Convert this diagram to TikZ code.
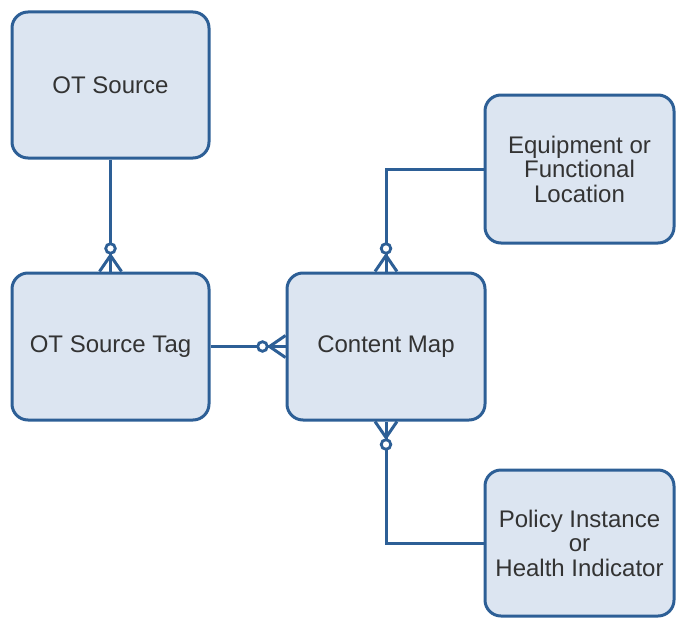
\documentclass[tikz,border=0pt]{standalone}
\usepackage{fontspec}
\setmainfont{Liberation Sans}
\usepackage{xcolor}
\usetikzlibrary{calc}
\definecolor{entityline}{HTML}{2D5F96}
\definecolor{entityfill}{HTML}{DCE5F1}
\definecolor{entitytext}{HTML}{333333}
% zero-or-many end: #1 = anchor on the box, #2 = angle pointing into the box
\newcommand{\zeromany}[2]{%
  \begin{scope}[shift={(#1)}, rotate=#2]
    \draw[line width=3pt, entityline] (-16,0) -- (0,11) (-16,0) -- (0,-11);
    \draw[line width=2.8pt, entityline, fill=white] (-23,0) circle (4.8pt);
  \end{scope}}

\begin{document}
\begin{tikzpicture}[x=1pt, y=-1pt,
  entity/.style={draw=entityline, line width=3pt, fill=entityfill, rounded corners=16pt,
    text=entitytext, font=\fontsize{24}{24.5}\selectfont, align=center, inner sep=0pt},
  link/.style={draw=entityline, line width=3pt}]
\useasboundingbox (0,0) rectangle (676,618);
% entities
\node[entity, minimum width=197pt, minimum height=146pt] (src) at (110.5,85) {OT Source};
\node[entity, minimum width=197pt, minimum height=147pt] (tag) at (110.5,346.5) {OT Source Tag};
\node[entity, minimum width=198pt, minimum height=147pt] (map) at (386,346.5) {Content Map};
\node[entity, minimum width=189pt, minimum height=148pt] (equip) at (579.5,169) {Equipment or\\Functional\\Location};
\node[entity, minimum width=189pt, minimum height=146pt] (policy) at (579.5,543) {Policy Instance\\or\\Health Indicator};
% relations
\draw[link] (src.south) -- (tag.north);
\draw[link] (tag.east) -- (map.west);
\draw[link] (equip.west) -| (map.north);
\draw[link] (policy.west) -| (map.south);
\zeromany{tag.north}{-90}
\zeromany{map.west}{0}
\zeromany{map.north}{-90}
\zeromany{map.south}{90}
\end{tikzpicture}
\end{document}
